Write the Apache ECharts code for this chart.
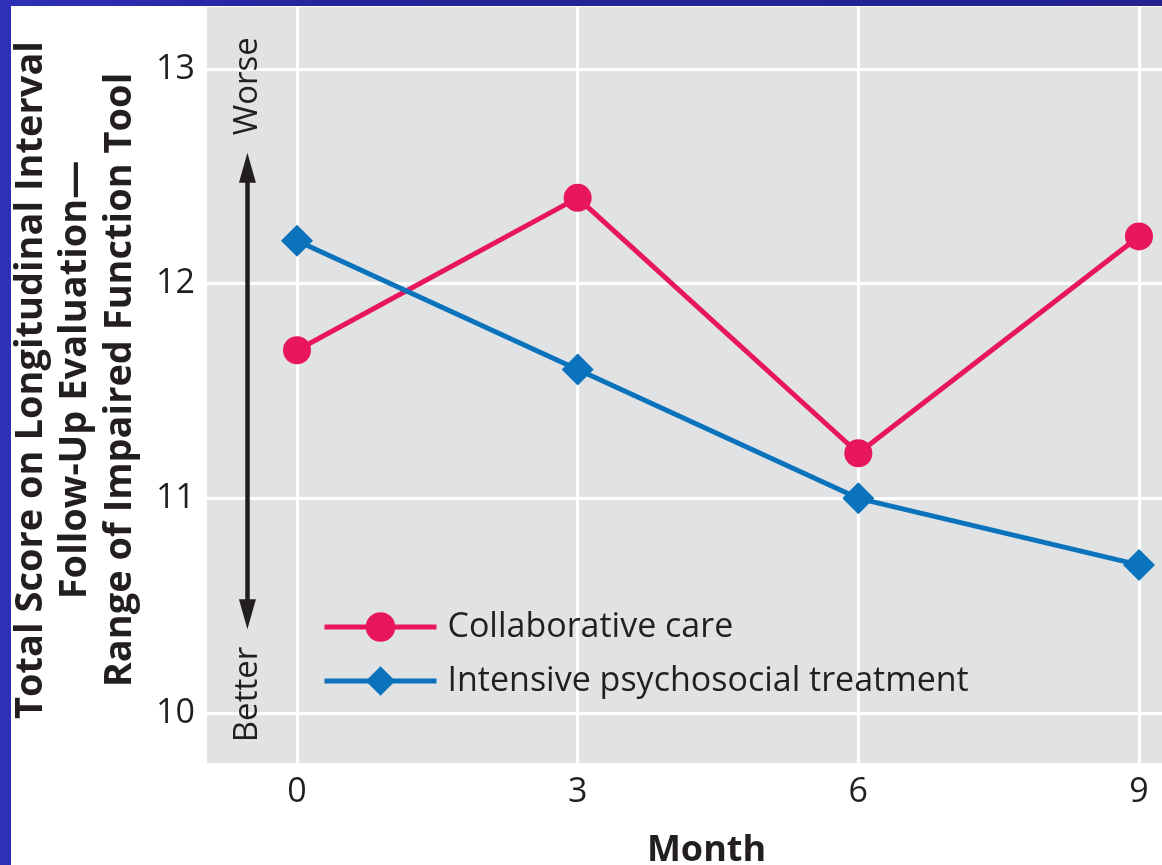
<!DOCTYPE html>
<html>
<head>
<meta charset="utf-8">
<script src="https://cdn.jsdelivr.net/npm/echarts@6/dist/echarts.min.js"></script>
<style>
  html, body { margin: 0; padding: 0; width: 1162px; height: 865px; overflow: hidden;
    background: linear-gradient(90deg, #2e30b8 0%, #24249a 30%, #23228f 100%); }
  #chart { position: absolute; left: 11px; top: 6px; width: 1151px; height: 859px; background: #ffffff; }
</style>
</head>
<body>
<div id="chart"></div>
<script>
// ---- data ----
const months = [0, 3, 6, 9];
const collaborativeCare = [11.69, 12.40, 11.21, 12.22];
const intensiveTreatment = [12.20, 11.60, 11.00, 10.69];
const seriesNames = ['Collaborative care', 'Intensive psychosocial treatment'];
const yTitle = 'Total Score on Longitudinal Interval\nFollow-Up Evaluation—\nRange of Impaired Function Tool';
const xTitle = 'Month';
// annotation arrow (data units)
const arrowX = -0.53;
const arrowTop = 12.54;
const arrowBottom = 10.46;
const worseY = 12.92;
const betterY = 10.086;

const font = '"Open Sans", "Noto Sans", sans-serif';
const textColor = '#231f20';

const chart = echarts.init(document.getElementById('chart'), null, { renderer: 'canvas' });

const toPairs = (ys) => months.map((m, i) => [m, ys[i]]);

chart.setOption({
  animation: false,
  backgroundColor: '#ffffff',
  grid: { left: 196, top: 1, right: 0, bottom: 102, show: true, backgroundColor: '#e1e2e4', borderWidth: 0,
          containLabel: false, outerBoundsMode: 'none' },
  legend: {
    data: seriesNames,
    orient: 'vertical',
    left: 311,
    top: 604,
    padding: 0,
    itemWidth: 112,
    itemHeight: 37,
    itemGap: 20,
    lineStyle: { width: 5 },
    textStyle: { fontFamily: font, fontSize: 34, color: textColor, padding: [0, 0, 0, 6] }
  },
  xAxis: {
    type: 'value',
    min: -0.962,
    max: 9.246,
    minInterval: 3,
    maxInterval: 3,
    name: xTitle,
    nameLocation: 'middle',
    nameGap: 70,
    nameTextStyle: { fontFamily: font, fontSize: 36, fontWeight: 'bold', color: textColor, padding: [0, 0, 0, 44] },
    axisLine: { show: false },
    axisTick: { show: false },
    axisLabel: { fontFamily: font, fontSize: 34, color: textColor, margin: 12, showMinLabel: false, showMaxLabel: false },
    splitLine: { show: true, showMinLine: false, showMaxLine: false, lineStyle: { color: '#ffffff', width: 3 } }
  },
  yAxis: {
    type: 'value',
    min: 9.767,
    max: 13.289,
    minInterval: 1,
    maxInterval: 1,
    name: yTitle,
    nameLocation: 'middle',
    nameRotate: 90,
    nameGap: 65,
    nameTextStyle: { fontFamily: font, fontSize: 38, fontWeight: 'bold', color: textColor, lineHeight: 44.5, align: 'center',
                     padding: [0, 0, 0, 10] },
    axisLine: { show: false },
    axisTick: { show: false },
    axisLabel: { fontFamily: font, fontSize: 34, color: textColor, margin: 12, showMinLabel: false, showMaxLabel: false },
    splitLine: { show: true, showMinLine: false, showMaxLine: false, lineStyle: { color: '#ffffff', width: 3 } }
  },
  series: [
    {
      name: seriesNames[0],
      type: 'line',
      data: toPairs(collaborativeCare),
      symbol: 'circle',
      symbolSize: 28,
      lineStyle: { color: '#e8175d', width: 5 },
      itemStyle: { color: '#e8175d' },
      z: 3
    },
    {
      name: seriesNames[1],
      type: 'line',
      data: toPairs(intensiveTreatment),
      symbol: 'diamond',
      symbolSize: 32,
      lineStyle: { color: '#0b72bc', width: 5 },
      itemStyle: { color: '#0b72bc' },
      z: 4
    },
    {
      name: 'annotation',
      type: 'line',
      data: [],
      silent: true,
      markLine: {
        silent: true,
        symbol: ['triangle', 'triangle'],
        symbolSize: [17, 30],
        lineStyle: { color: '#231f20', width: 4.5, type: 'solid' },
        label: { show: false },
        data: [[{ coord: [arrowX, arrowTop] }, { coord: [arrowX, arrowBottom] }]]
      },
      markPoint: {
        silent: true,
        symbol: 'circle',
        symbolSize: 1,
        itemStyle: { color: 'rgba(0,0,0,0)' },
        label: { show: true, position: 'inside', rotate: 90, fontFamily: font, fontSize: 33, color: textColor },
        data: [
          { coord: [arrowX, worseY], value: 'Worse', label: { formatter: 'Worse' } },
          { coord: [arrowX, betterY], value: 'Better', label: { formatter: 'Better' } }
        ]
      }
    }
  ]
});
</script>
</body>
</html>
